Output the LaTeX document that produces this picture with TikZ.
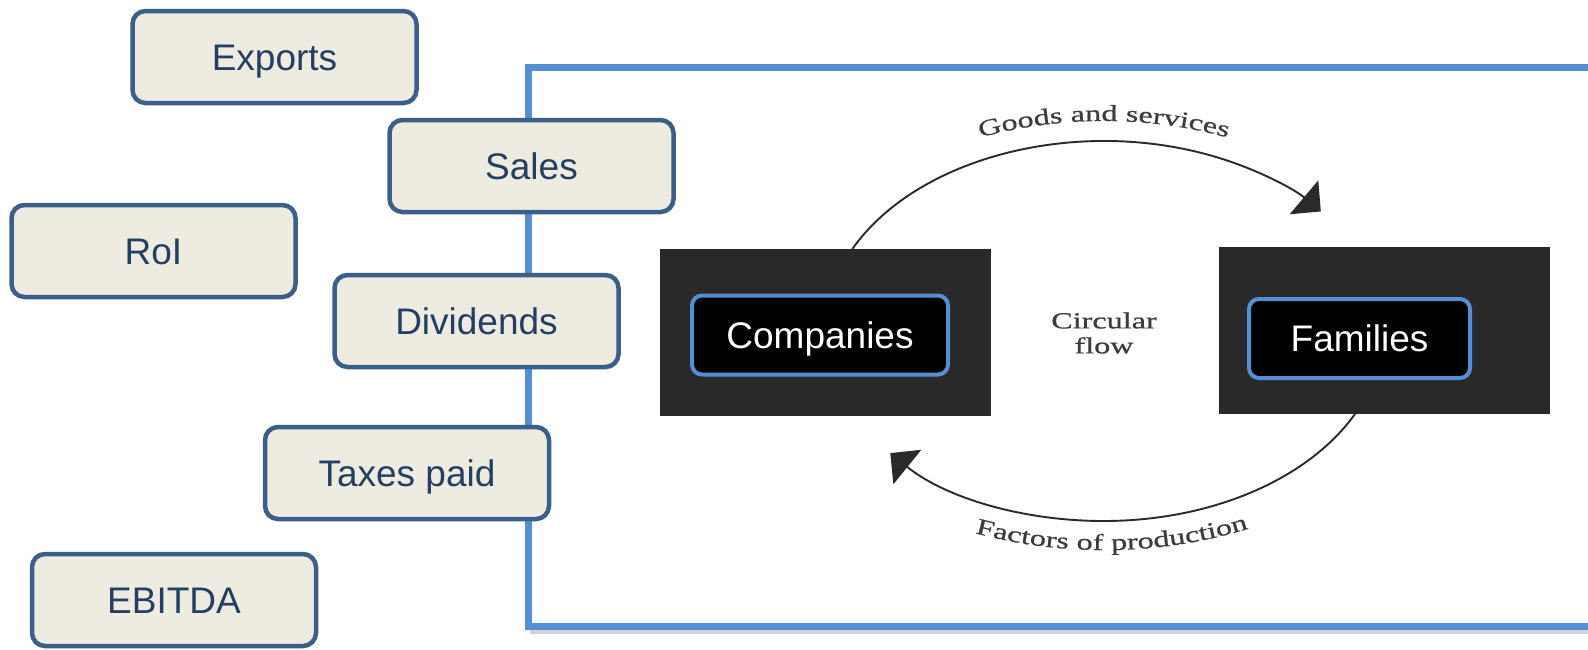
\documentclass[tikz,border=0pt]{standalone}
\usepackage{fontspec}
\setmainfont{Liberation Sans}
\newfontfamily\scanfont[FakeStretch=1.4,FakeBold=0.8]{Liberation Serif}
\usepackage{tikz}
\usetikzlibrary{arrows.meta}
\usetikzlibrary{decorations.text}
\usetikzlibrary{shadows}
\usetikzlibrary{calc}
\definecolor{boxfill}{HTML}{EEEBE0}
\definecolor{boxline}{HTML}{3B5E8A}
\definecolor{boxtext}{HTML}{243F62}
\definecolor{frameblue}{HTML}{558ED5}
\definecolor{scanblack}{HTML}{292929}
\definecolor{scanink}{HTML}{3C3C3C}
\newcommand{\scanstyle}{\scanfont\fontsize{23}{25}\selectfont}

\begin{document}
\begin{tikzpicture}[x=1pt,y=-1pt,
	measure/.style={draw=boxline,line width=4.5pt,fill=boxfill,rounded corners=13pt,minimum width=284pt,minimum height=92pt,text=boxtext,text height=26.5pt,text depth=0pt,font=\fontsize{37}{44}\selectfont},
	actor/.style={draw=frameblue,line width=4pt,fill=black,rounded corners=10pt,minimum height=79pt,text=white,text height=26.5pt,text depth=0pt,font=\fontsize{37}{44}\selectfont},
	block/.style={fill=scanblack,minimum width=331pt,minimum height=167pt,inner sep=0pt},
	flowline/.style={draw=scanink!70!black,line width=1.9pt,-{Triangle[length=22pt,width=44pt]}}]
				\useasboundingbox (0,0) rectangle (1588,649);
				\draw[draw=frameblue,line width=7pt,fill=white,drop shadow={shadow xshift=2pt,shadow yshift=-8pt,opacity=.35}] (528,67) rectangle (1620,626);
				\node[block] (compblk) at (825.5,332.5) {};
				\node[block] (famblk) at (1384,330) {};
				\coordinate (flow) at (1104,331);
				\path (flow) ++(205.5:279 and 190) coordinate (gsfrom);
				\path (flow) ++(25.5:279 and 190) coordinate (fpfrom);
				\draw[flowline] (gsfrom) arc[start angle=205.5,end angle=321,x radius=279,y radius=190];
				\draw[flowline] (fpfrom) arc[start angle=25.5,end angle=140,x radius=279,y radius=190];
				\path[decorate,decoration={text along path,text align=center,text color=scanink,text={|\scanstyle|Goods and services}}]
				($(flow)+(200:318 and 210)$) arc[start angle=200,end angle=340,x radius=318,y radius=210];
				\path[decorate,decoration={text along path,text align=center,text color=scanink,text={|\scanstyle|Factors of production}}]
				($(flow)+(160:335 and 219)$) arc[start angle=160,end angle=16,x radius=335,y radius=219];
				\node[text=scanink,align=center,font=\scanstyle] (circular) at (1104,333) {Circular\\flow};
				\node[actor,minimum width=256pt] (companies) at (820,335) {Companies};
				\node[actor,minimum width=221pt] (families) at (1359.5,338.5) {Families};
				\node[measure] (exports) at (274.5,57) {Exports};
				\node[measure] (sales) at (531.5,166) {Sales};
				\node[measure] (roi) at (153.5,251) {RoI};
				\node[measure] (dividends) at (476.5,321) {Dividends};
				\node[measure] (taxes) at (407,473) {Taxes paid};
				\node[measure] (ebitda) at (174,600) {EBITDA};
\end{tikzpicture}
\end{document}
